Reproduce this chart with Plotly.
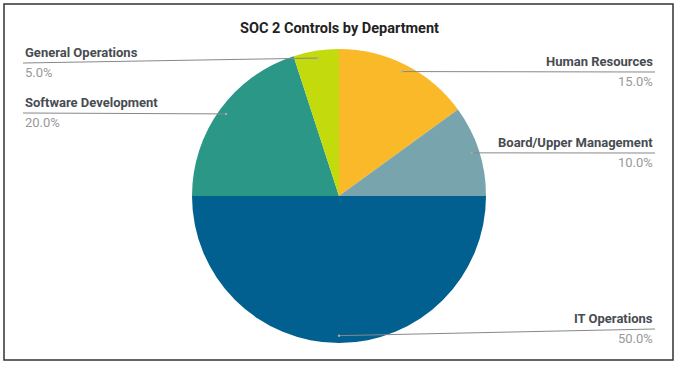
import math
import plotly.graph_objects as go

categories = ["Human Resources", "Board/Upper Management", "IT Operations",
              "Software Development", "General Operations"]
values = [15, 10, 50, 20, 5]
colors = ["#F9B928", "#78A4AE", "#01608F", "#2A9787", "#C3DB0C"]

# layout of label blocks (side, y of underline in px)
label_side = ["right", "right", "right", "left", "left"]
label_line_y = [72, 153, 329, 113, 63]

W, H = 679, 366
cx, cy, R = 339, 196, 147
LEFT_X, RIGHT_X = 23, 655

def px(x):
    return x / W

def py(y):
    return 1 - y / H

fig = go.Figure(go.Pie(
    labels=categories, values=values, sort=False, direction="clockwise",
    rotation=0, textinfo="none", hoverinfo="label+percent",
    marker=dict(colors=colors, line=dict(width=0)),
    domain=dict(x=[px(cx - R), px(cx + R)], y=[py(cy + R), py(cy - R)]),
    showlegend=False,
))

shapes = [dict(type="rect", xref="paper", yref="paper",
               x0=px(4), x1=px(673), y0=py(360), y1=py(4),
               line=dict(color="#333333", width=1.5))]
annotations = [dict(text="<b>SOC 2 Controls by Department</b>", xref="paper", yref="paper",
                    x=px(339), y=py(29), showarrow=False, xanchor="center", yanchor="middle",
                    font=dict(family="Roboto", size=14.5, color="#222222"))]

total = sum(values)
cum = 0
for name, v, side, ly in zip(categories, values, label_side, label_line_y):
    mid = (cum + v / 2) / total * 2 * math.pi
    cum += v
    ax = cx + 0.95 * R * math.sin(mid)
    ay = cy - 0.95 * R * math.cos(mid)
    lx = RIGHT_X if side == "right" else LEFT_X
    shapes.append(dict(type="line", xref="paper", yref="paper",
                       x0=px(ax), y0=py(ay), x1=px(lx), y1=py(ly),
                       line=dict(color="#888888", width=1)))
    shapes.append(dict(type="circle", xref="paper", yref="paper",
                       x0=px(ax - 1.2), x1=px(ax + 1.2), y0=py(ay + 1.2), y1=py(ay - 1.2),
                       fillcolor="#aaaaaa", line=dict(width=0)))
    anchor = "right" if side == "right" else "left"
    annotations.append(dict(text="<b>%s</b>" % name, xref="paper", yref="paper",
                            x=px(lx), y=py(ly - 1), showarrow=False,
                            xanchor=anchor, yanchor="bottom",
                            font=dict(family="Roboto", size=13, color="#474c52")))
    annotations.append(dict(text="%.1f%%" % (v / total * 100), xref="paper", yref="paper",
                            x=px(lx), y=py(ly), showarrow=False,
                            xanchor=anchor, yanchor="top",
                            font=dict(family="Roboto", size=13, color="#999999")))

fig.update_layout(width=W, height=H, margin=dict(l=0, r=0, t=0, b=0),
                  paper_bgcolor="white", plot_bgcolor="white",
                  shapes=shapes, annotations=annotations)
fig.write_html("out.html", config={"displayModeBar": False})

with open("out.html", "r", encoding="utf-8") as f:
    html = f.read()
html = html.replace("<head>", "<head><style>html,body{margin:0;padding:0;overflow:hidden;}</style>", 1)
with open("out.html", "w", encoding="utf-8") as f:
    f.write(html)
